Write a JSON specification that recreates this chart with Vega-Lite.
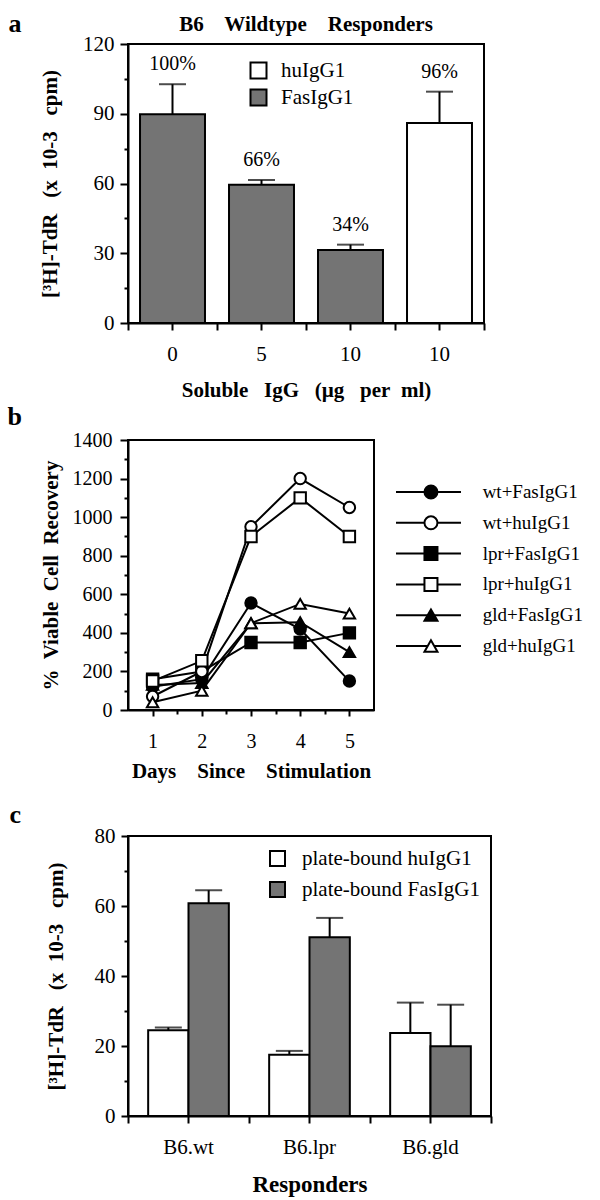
{
  "$schema": "https://vega.github.io/schema/vega-lite/v6.json",
  "background": "white",
  "padding": {"left": 6, "top": 9, "right": 0, "bottom": 0},
  "autosize": {"type": "pad"},
  "config": {
    "font": "Liberation Serif",
    "view": {"stroke": "black", "strokeWidth": 2},
    "axis": {
      "domainColor": "black", "domainWidth": 2, "tickColor": "black", "tickWidth": 2, "tickSize": 7,
      "labelFont": "Liberation Serif", "labelFontSize": 20, "labelColor": "black", "labelPadding": 6,
      "titleFont": "Liberation Serif", "titleFontWeight": "bold", "titleFontSize": 21, "titleColor": "black",
      "grid": false, "labelAngle": 0
    },
    "legend": {"labelFont": "Liberation Serif", "labelFontSize": 19, "labelColor": "black", "symbolStrokeColor": "black", "symbolStrokeWidth": 2, "symbolOpacity": 1, "labelLimit": 300},
    "title": {"font": "Liberation Serif", "color": "black"}
  },
  "resolve": {"scale": {"fill": "independent", "shape": "independent"}, "legend": {"fill": "independent", "shape": "independent"}},
  "vconcat": [
    {
      "width": 356,
      "height": 279,
      "title": {"text": "B6\u00a0\u00a0\u00a0 Wildtype\u00a0\u00a0\u00a0 Responders", "fontSize": 21, "fontWeight": "bold", "anchor": "middle", "frame": "group", "offset": 10, "dy": 35},
      "data": {"values": [
        {"bar": "0 FasIgG1", "reagent": "FasIgG1", "cpm": 89.8, "upper": 102.7, "pct": "100%"},
        {"bar": "5 FasIgG1", "reagent": "FasIgG1", "cpm": 59.5, "upper": 61.5, "pct": "66%"},
        {"bar": "10 FasIgG1", "reagent": "FasIgG1", "cpm": 31.4, "upper": 33.7, "pct": "34%"},
        {"bar": "10 huIgG1", "reagent": "huIgG1", "cpm": 86.0, "upper": 99.5, "pct": "96%"}
      ]},
      "layer": [
        {
          "mark": {"type": "bar", "width": {"band": 0.73}, "stroke": "black", "strokeWidth": 2},
          "encoding": {
            "x": {"field": "bar", "type": "nominal", "sort": null, "scale": {"paddingInner": 0, "paddingOuter": 0},
              "axis": {"orient": "bottom", "title": "Soluble\u00a0\u00a0 IgG\u00a0\u00a0 (µg\u00a0\u00a0 per\u00a0 ml)", "labelExpr": "split(datum.label, ' ')[0]", "labelFontSize": 21, "labelPadding": 13, "titlePadding": 15, "tickSize": 7}},
            "y": {"field": "cpm", "type": "quantitative", "scale": {"domain": [0, 120]},
              "axis": {"orient": "left", "values": [0, 30, 60, 90, 120], "title": "[³H]-TdR\u00a0\u00a0 (x\u00a0 10-3\u00a0\u00a0 cpm)", "titlePadding": 22, "tickSize": 8, "labelPadding": 6, "labelFontSize": 21}},
            "fill": {"field": "reagent", "type": "nominal", "scale": {"domain": ["huIgG1", "FasIgG1"], "range": ["white", "#747474"]},
              "legend": {"title": null, "orient": "none", "legendX": 120, "legendY": 16, "symbolType": "square", "symbolSize": 256, "labelOffset": 12, "rowPadding": 2, "labelFontSize": 21}}
          }
        },
        {
          "mark": {"type": "rule", "strokeWidth": 2, "color": "black"},
          "encoding": {
            "x": {"field": "bar", "type": "nominal", "sort": null, "axis": {"orient": "bottom", "tickBand": "extent", "labels": false, "domain": false, "title": null, "tickSize": 7}},
            "y": {"field": "cpm", "type": "quantitative", "scale": {"domain": [0, 120]},
              "axis": {"orient": "left", "values": [15, 45, 75, 105], "labels": false, "domain": false, "tickSize": 4, "title": "a", "titleAngle": 0, "titleX": -120, "titleY": -13, "titleAlign": "left", "titleBaseline": "alphabetic", "titleFontSize": 26}},
            "y2": {"field": "upper"}
          }
        },
        {
          "mark": {"type": "tick", "size": 27, "thickness": 2, "color": "black"},
          "encoding": {
            "x": {"field": "bar", "type": "nominal", "sort": null, "axis": null},
            "y": {"field": "upper", "type": "quantitative", "scale": {"domain": [0, 120]}, "axis": null}
          }
        },
        {
          "mark": {"type": "text", "dy": -20, "fontSize": 20, "font": "Liberation Serif", "color": "black"},
          "encoding": {
            "x": {"field": "bar", "type": "nominal", "sort": null, "axis": null},
            "y": {"field": "upper", "type": "quantitative", "scale": {"domain": [0, 120]}, "axis": null},
            "text": {"field": "pct"}
          }
        }
      ],
      "resolve": {"axis": {"x": "independent", "y": "independent"}}
    },
    {
      "spacing": 18,
      "resolve": {"scale": {"fill": "independent", "shape": "independent"}, "legend": {"fill": "independent", "shape": "independent"}},
      "vconcat": [
        {
          "bounds": "flush",
          "spacing": 22,
          "hconcat": [
            {
              "width": 246,
              "height": 270,
              "data": {"values": [
                {"series": "wt+FasIgG1", "day": 1, "pct": 120}, {"series": "wt+FasIgG1", "day": 2, "pct": 160}, {"series": "wt+FasIgG1", "day": 3, "pct": 555}, {"series": "wt+FasIgG1", "day": 4, "pct": 420}, {"series": "wt+FasIgG1", "day": 5, "pct": 150},
                {"series": "lpr+FasIgG1", "day": 1, "pct": 160}, {"series": "lpr+FasIgG1", "day": 2, "pct": 200}, {"series": "lpr+FasIgG1", "day": 3, "pct": 350}, {"series": "lpr+FasIgG1", "day": 4, "pct": 350}, {"series": "lpr+FasIgG1", "day": 5, "pct": 400},
                {"series": "gld+FasIgG1", "day": 1, "pct": 130}, {"series": "gld+FasIgG1", "day": 2, "pct": 140}, {"series": "gld+FasIgG1", "day": 3, "pct": 450}, {"series": "gld+FasIgG1", "day": 4, "pct": 455}, {"series": "gld+FasIgG1", "day": 5, "pct": 300},
                {"series": "wt+huIgG1", "day": 1, "pct": 70}, {"series": "wt+huIgG1", "day": 2, "pct": 200}, {"series": "wt+huIgG1", "day": 3, "pct": 950}, {"series": "wt+huIgG1", "day": 4, "pct": 1200}, {"series": "wt+huIgG1", "day": 5, "pct": 1050},
                {"series": "lpr+huIgG1", "day": 1, "pct": 150}, {"series": "lpr+huIgG1", "day": 2, "pct": 255}, {"series": "lpr+huIgG1", "day": 3, "pct": 900}, {"series": "lpr+huIgG1", "day": 4, "pct": 1100}, {"series": "lpr+huIgG1", "day": 5, "pct": 900},
                {"series": "gld+huIgG1", "day": 1, "pct": 40}, {"series": "gld+huIgG1", "day": 2, "pct": 100}, {"series": "gld+huIgG1", "day": 3, "pct": 450}, {"series": "gld+huIgG1", "day": 4, "pct": 550}, {"series": "gld+huIgG1", "day": 5, "pct": 500}
              ]},
              "layer": [
                {
                  "mark": {"type": "line", "color": "black", "strokeWidth": 2},
                  "encoding": {
                    "x": {"field": "day", "type": "quantitative", "scale": {"domain": [0.5, 5.5], "nice": false},
                      "axis": {"orient": "bottom", "values": [1, 2, 3, 4, 5], "title": "Days\u00a0\u00a0\u00a0 Since\u00a0\u00a0\u00a0 Stimulation", "labelPadding": 15, "titlePadding": 9, "tickSize": 6}},
                    "y": {"field": "pct", "type": "quantitative", "scale": {"domain": [0, 1400], "nice": false},
                      "axis": {"orient": "left", "values": [0, 200, 400, 600, 800, 1000, 1200, 1400], "format": "d", "title": "%\u00a0 Viable\u00a0 Cell\u00a0 Recovery", "titlePadding": 11, "labelPadding": 8, "tickSize": 8}},
                    "detail": {"field": "series"}
                  }
                },
                {
                  "mark": {"type": "point", "filled": true, "stroke": "black", "strokeWidth": 2, "size": 130, "opacity": 1},
                  "encoding": {
                    "x": {"field": "day", "type": "quantitative", "scale": {"domain": [0.5, 5.5], "nice": false},
                      "axis": {"orient": "bottom", "values": [1.5, 2.5, 3.5, 4.5], "labels": false, "domain": false, "title": null, "tickSize": 4}},
                    "y": {"field": "pct", "type": "quantitative", "scale": {"domain": [0, 1400], "nice": false},
                      "axis": {"orient": "left", "values": [100, 300, 500, 700, 900, 1100, 1300], "labels": false, "domain": false, "tickSize": 4, "title": "b", "titleAngle": 0, "titleX": -121, "titleY": -16, "titleAlign": "left", "titleBaseline": "alphabetic", "titleFontSize": 26}},
                    "shape": {"field": "series", "type": "nominal",
                      "scale": {"domain": ["wt+FasIgG1", "wt+huIgG1", "lpr+FasIgG1", "lpr+huIgG1", "gld+FasIgG1", "gld+huIgG1"], "range": ["circle", "circle", "square", "square", "triangle-up", "triangle-up"]},
                      "legend": null},
                    "fill": {"field": "series", "type": "nominal",
                      "scale": {"domain": ["wt+FasIgG1", "wt+huIgG1", "lpr+FasIgG1", "lpr+huIgG1", "gld+FasIgG1", "gld+huIgG1"], "range": ["black", "white", "black", "white", "black", "white"]},
                      "legend": null}
                  }
                }
              ],
              "resolve": {"axis": {"x": "independent", "y": "independent"}}
            },
            {
              "width": 190,
              "height": 258,
              "view": {"stroke": null},
              "data": {"values": [
                {"series": "wt+FasIgG1"}, {"series": "wt+huIgG1"}, {"series": "lpr+FasIgG1"},
                {"series": "lpr+huIgG1"}, {"series": "gld+FasIgG1"}, {"series": "gld+huIgG1"}
              ]},
              "encoding": {
                "y": {"field": "series", "type": "nominal", "sort": null, "scale": {"type": "point", "range": [52, 206], "padding": 0}, "axis": null}
              },
              "layer": [
                {
                  "mark": {"type": "rule", "strokeWidth": 2, "color": "black"},
                  "encoding": {
                    "x": {"datum": 0, "type": "quantitative", "scale": {"domain": [0, 1], "nice": false}, "axis": null},
                    "x2": {"datum": 0.342}
                  }
                },
                {
                  "mark": {"type": "point", "filled": true, "stroke": "black", "strokeWidth": 2, "size": 169, "opacity": 1},
                  "encoding": {
                    "x": {"datum": 0.184, "type": "quantitative", "scale": {"domain": [0, 1], "nice": false}, "axis": null},
                    "shape": {"field": "series", "type": "nominal",
                      "scale": {"domain": ["wt+FasIgG1", "wt+huIgG1", "lpr+FasIgG1", "lpr+huIgG1", "gld+FasIgG1", "gld+huIgG1"], "range": ["circle", "circle", "square", "square", "triangle-up", "triangle-up"]},
                      "legend": null},
                    "fill": {"field": "series", "type": "nominal",
                      "scale": {"domain": ["wt+FasIgG1", "wt+huIgG1", "lpr+FasIgG1", "lpr+huIgG1", "gld+FasIgG1", "gld+huIgG1"], "range": ["black", "white", "black", "white", "black", "white"]},
                      "legend": null}
                  }
                },
                {
                  "mark": {"type": "text", "align": "left", "baseline": "middle", "fontSize": 19, "font": "Liberation Serif", "color": "black"},
                  "encoding": {
                    "x": {"datum": 0.456, "type": "quantitative", "scale": {"domain": [0, 1], "nice": false}, "axis": null},
                    "text": {"field": "series"}
                  }
                }
              ]
            }
          ]
        },
        {
          "width": 363,
          "height": 280,
          "data": {"values": [
            {"responder": "B6.wt", "reagent": "plate-bound huIgG1", "cpm": 24.5, "upper": 25.3},
            {"responder": "B6.wt", "reagent": "plate-bound FasIgG1", "cpm": 60.8, "upper": 64.5},
            {"responder": "B6.lpr", "reagent": "plate-bound huIgG1", "cpm": 17.5, "upper": 18.6},
            {"responder": "B6.lpr", "reagent": "plate-bound FasIgG1", "cpm": 51.1, "upper": 56.6},
            {"responder": "B6.gld", "reagent": "plate-bound huIgG1", "cpm": 23.7, "upper": 32.4},
            {"responder": "B6.gld", "reagent": "plate-bound FasIgG1", "cpm": 19.9, "upper": 31.8}
          ]},
          "layer": [
            {
              "mark": {"type": "bar", "stroke": "black", "strokeWidth": 2},
              "encoding": {
                "x": {"field": "responder", "type": "nominal", "sort": null, "scale": {"paddingInner": 0, "paddingOuter": 0},
                  "axis": {"orient": "bottom", "title": "Responders", "labelFontSize": 21, "labelPadding": 13, "titlePadding": 16, "titleFontSize": 23}},
                "xOffset": {"field": "reagent", "type": "nominal", "sort": ["plate-bound huIgG1", "plate-bound FasIgG1"], "scale": {"paddingInner": 0, "paddingOuter": 0.5}},
                "y": {"field": "cpm", "type": "quantitative", "scale": {"domain": [0, 80]},
                  "axis": {"orient": "left", "values": [0, 20, 40, 60, 80], "title": "[³H]-TdR\u00a0\u00a0 (x\u00a0 10-3\u00a0\u00a0 cpm)", "titlePadding": 28, "labelPadding": 6, "labelFontSize": 21}},
                "fill": {"field": "reagent", "type": "nominal", "scale": {"domain": ["plate-bound huIgG1", "plate-bound FasIgG1"], "range": ["white", "#747474"]},
                  "legend": {"title": null, "orient": "none", "legendX": 139, "legendY": 12, "symbolType": "square", "symbolSize": 225, "labelOffset": 14, "rowPadding": 8, "labelFontSize": 21}}
              }
            },
            {
              "mark": {"type": "rule", "strokeWidth": 2, "color": "black"},
              "encoding": {
                "x": {"field": "responder", "type": "nominal", "sort": null, "axis": {"orient": "bottom", "tickBand": "extent", "labels": false, "domain": false, "title": null}},
                "xOffset": {"field": "reagent", "type": "nominal", "sort": ["plate-bound huIgG1", "plate-bound FasIgG1"]},
                "y": {"field": "cpm", "type": "quantitative", "scale": {"domain": [0, 80]},
                  "axis": {"orient": "left", "values": [10, 30, 50, 70], "labels": false, "domain": false, "tickSize": 4, "title": "c", "titleAngle": 0, "titleX": -119, "titleY": -14, "titleAlign": "left", "titleBaseline": "alphabetic", "titleFontSize": 26}},
                "y2": {"field": "upper"}
              }
            },
            {
              "mark": {"type": "tick", "size": 27, "thickness": 2, "color": "black"},
              "encoding": {
                "x": {"field": "responder", "type": "nominal", "sort": null, "axis": null},
                "xOffset": {"field": "reagent", "type": "nominal", "sort": ["plate-bound huIgG1", "plate-bound FasIgG1"]},
                "y": {"field": "upper", "type": "quantitative", "scale": {"domain": [0, 80]}, "axis": null}
              }
            }
          ],
          "resolve": {"axis": {"x": "independent", "y": "independent"}}
        }
      ]
    }
  ],
  "spacing": 1
}
